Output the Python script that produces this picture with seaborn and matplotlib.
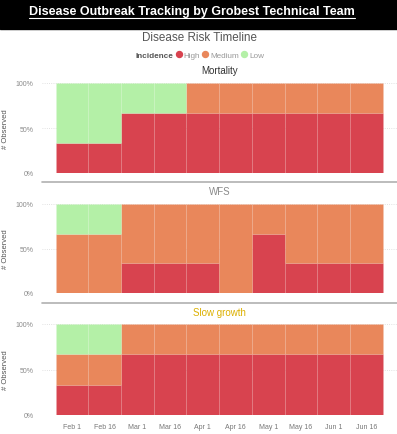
import numpy as np
import pandas as pd
import matplotlib.pyplot as plt
import seaborn as sns
from matplotlib.lines import Line2D
from matplotlib.patches import Rectangle

dates = ['Feb 1', 'Feb 16', 'Mar 1', 'Mar 16', 'Apr 1', 'Apr 16', 'May 1', 'May 16', 'Jun 1', 'Jun 16']
levels = ['High', 'Medium', 'Low']
colors = {'High': '#d8434f', 'Medium': '#e9875b', 'Low': '#b4f0a7'}

# number of observations per level, per date
mortality_high = [1, 1, 2, 2, 2, 2, 2, 2, 2, 2]
mortality_medium = [0, 0, 0, 0, 1, 1, 1, 1, 1, 1]
mortality_low = [2, 2, 1, 1, 0, 0, 0, 0, 0, 0]

wfs_high = [0, 0, 1, 1, 1, 0, 2, 1, 1, 1]
wfs_medium = [2, 2, 2, 2, 2, 3, 1, 2, 2, 2]
wfs_low = [1, 1, 0, 0, 0, 0, 0, 0, 0, 0]

slow_high = [1, 1, 2, 2, 2, 2, 2, 2, 2, 2]
slow_medium = [1, 1, 1, 1, 1, 1, 1, 1, 1, 1]
slow_low = [1, 1, 0, 0, 0, 0, 0, 0, 0, 0]

panels = [
    ('Mortality', '#333333', mortality_high, mortality_medium, mortality_low),
    ('WFS', '#8a8a8a', wfs_high, wfs_medium, wfs_low),
    ('Slow growth', '#dcb000', slow_high, slow_medium, slow_low),
]

sns.set_style('white')
plt.rcParams['font.family'] = ['Liberation Sans', 'DejaVu Sans']

W, H = 397, 435
fig = plt.figure(figsize=(W / 100, H / 100), dpi=100)


def fx(px):
    return px / W


def fy(py):
    return 1 - py / H


# black banner with underlined title
fig.patches.append(Rectangle((0, fy(30)), 1, 30 / H, transform=fig.transFigure,
                             color='black', zorder=0))
fig.text(fx(192), fy(12), 'Disease Outbreak Tracking by Grobest Technical Team',
         color='white', fontsize=9.0, fontweight='bold', ha='center', va='center')
fig.lines.append(Line2D([fx(29), fx(355)], [fy(18.5), fy(18.5)], transform=fig.transFigure,
                        color='white', lw=0.8))

fig.text(fx(200), fy(38), 'Disease Risk Timeline', color='#555555', fontsize=8.4,
         ha='center', va='center')

# legend
handles = [Line2D([], [], ls='', marker='', label='Incidence')]
for lv in levels:
    handles.append(Line2D([], [], ls='', marker='o', markersize=4.3,
                          color=colors[lv], label=lv))
leg = fig.legend(handles=handles, loc='center', bbox_to_anchor=(fx(196), fy(56)),
                 ncol=4, frameon=False, fontsize=5.9, handlelength=0.7,
                 handletextpad=0.25, columnspacing=0.3, borderpad=0)
for t in leg.get_texts():
    t.set_color('#999999')
leg.get_texts()[0].set_fontweight('bold')
leg.get_texts()[0].set_color('#555555')

ax_top = [84, 205, 325]
ax_bot = [174, 294, 416]
title_y = [71, 192, 313]
sep_y = [183, 304]

for i, (name, tcolor, hi, me, lo) in enumerate(panels):
    rows = []
    for j in range(len(dates)):
        rows.append({'idx': j, 'Incidence': 'High', 'n': hi[j]})
        rows.append({'idx': j, 'Incidence': 'Medium', 'n': me[j]})
        rows.append({'idx': j, 'Incidence': 'Low', 'n': lo[j]})
    df = pd.DataFrame(rows)

    ax = fig.add_axes([fx(42), fy(ax_bot[i]), fx(355), (ax_bot[i] - ax_top[i]) / H])
    sns.histplot(data=df, x='idx', hue='Incidence', weights='n', multiple='fill',
                 discrete=True, shrink=1, hue_order=['Low', 'Medium', 'High'],
                 palette=colors, alpha=1, edgecolor=(1, 1, 1, 0.05), linewidth=0.6,
                 legend=False, ax=ax, zorder=2)
    ax.set_xlim(-0.913, 9.937)
    ax.set_ylim(0, 1)
    ax.set_yticks([0, 0.5, 1])
    ax.set_yticklabels(['0%', '50%', '100%'])
    ax.grid(axis='y', ls=':', color='#d8d8d8', lw=0.6, zorder=0)
    ax.grid(axis='x', visible=False)
    for s in ax.spines.values():
        s.set_visible(False)
    ax.tick_params(axis='y', length=0, labelsize=5, labelcolor='#8a8a8a', pad=6)
    ax.set_ylabel('# Observed', fontsize=5.5, color='#555555')
    ax.yaxis.set_label_coords((9 - 42) / 355, 0.5)
    ax.set_xlabel('')
    if i == 2:
        ax.set_xticks(range(len(dates)))
        ax.set_xticklabels(dates)
        ax.tick_params(axis='x', length=0, labelsize=5, labelcolor='#777777', pad=6)
    else:
        ax.set_xticks([])
    fig.text(fx(219.5), fy(title_y[i]), name, color=tcolor, fontsize=7,
             ha='center', va='center')

for y in sep_y:
    fig.lines.append(Line2D([fx(42), 1], [fy(y), fy(y)], transform=fig.transFigure,
                            color='#b0b0b0', lw=1.2))

fig.savefig('out.png', dpi=100)
